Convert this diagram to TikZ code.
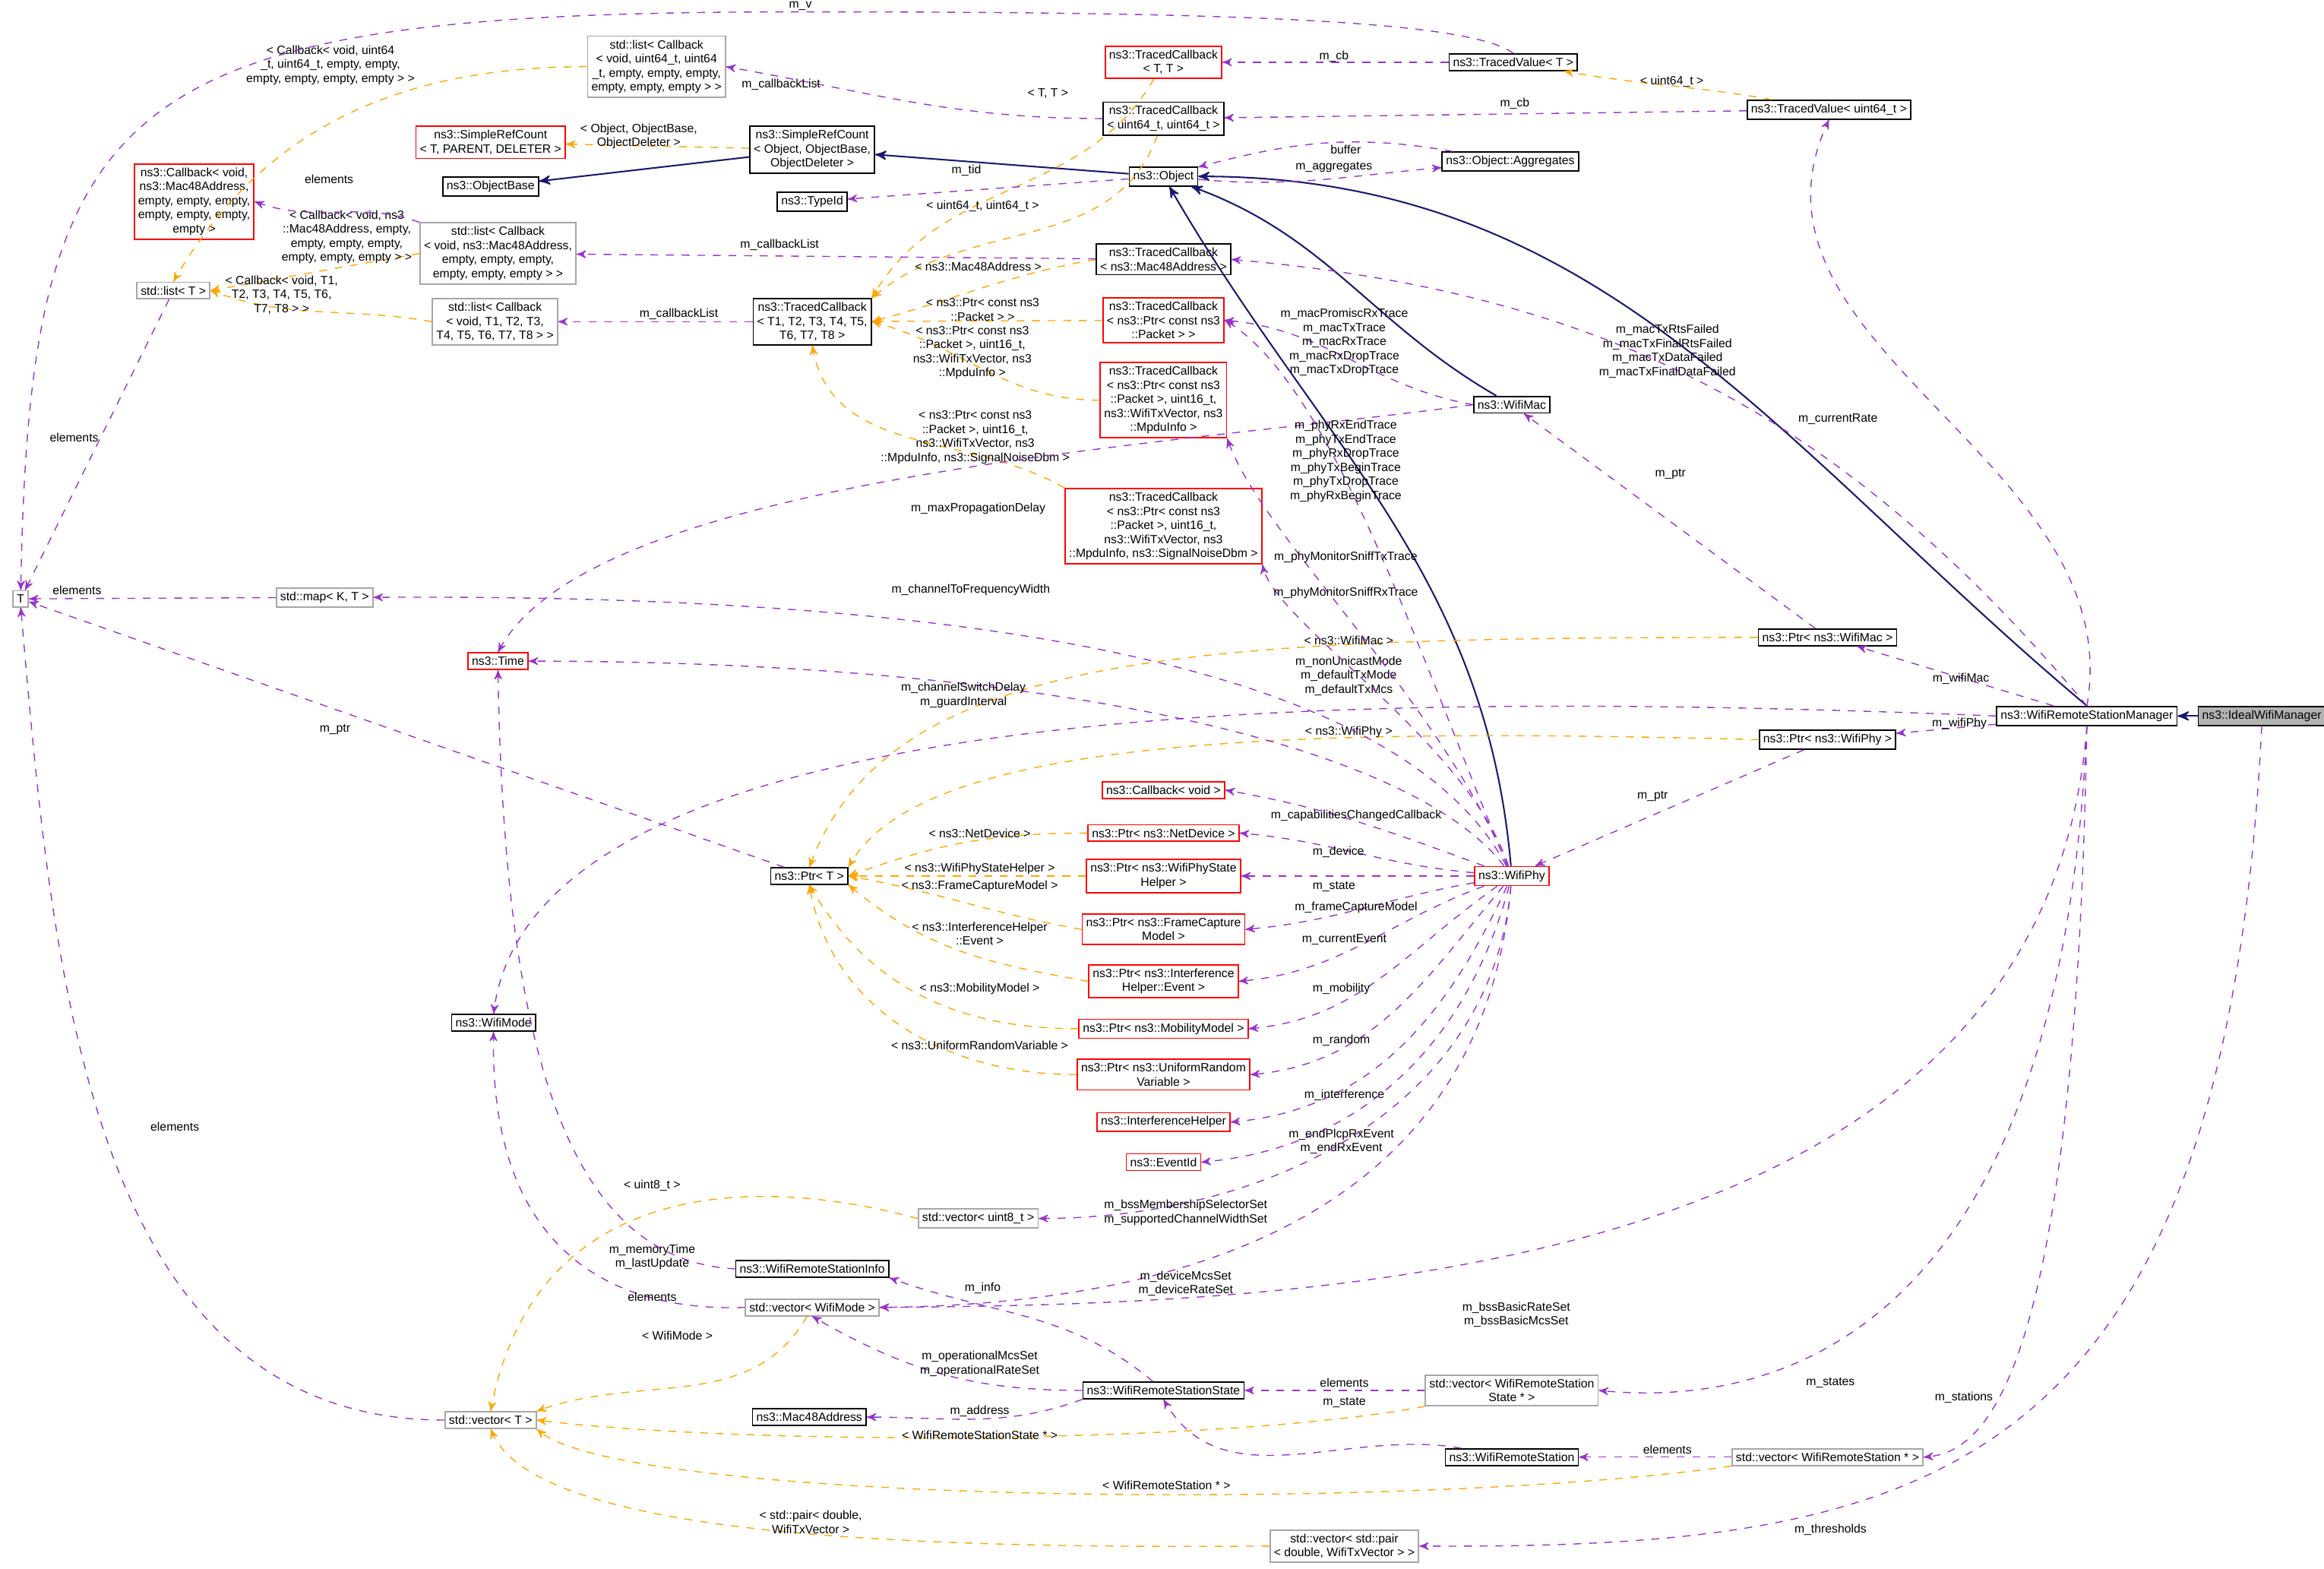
\documentclass[tikz,border=0pt]{standalone}
\usepackage{fontspec}
\setmainfont{Liberation Sans}
\usetikzlibrary{arrows,positioning}
\definecolor{navy}{RGB}{25,25,112}
\definecolor{usec}{RGB}{153,50,204}
\definecolor{instc}{RGB}{255,165,0}
\begin{document}
\begin{tikzpicture}[x=0.02cm,y=-0.02cm,>=stealth',font=\fontsize{4.6}{5.4}\selectfont]
  \tikzset{
    cls/.style={draw=black,fill=white,align=center,inner sep=1.5pt,line width=0.5pt},
    tmpl/.style={cls,draw=gray!70},
    redcls/.style={cls,draw=red},
    cur/.style={cls,fill=gray!60},
    inh/.style={->,navy,line width=0.6pt},
    use/.style={->,usec,dashed,line width=0.4pt},
    inst/.style={->,instc,dashed,line width=0.4pt},
    lbl/.style={align=center,text=black,inner sep=0.5pt}
  }
  \useasboundingbox (0,0) rectangle (1568,1058);

  % classes
  \node[tmpl] (T) at (14,404) {T};
  \node[tmpl] (listT) at (117,196) {std::list< T >};
  \node[redcls] (cbMac) at (131,136) {ns3::Callback< void,\\ns3::Mac48Address,\\empty, empty, empty,\\empty, empty, empty,\\empty >};
  \node[tmpl] (listCbU) at (443,45) {std::list< Callback\\< void, uint64\_t, uint64\\\_t, empty, empty, empty,\\empty, empty, empty > >};
  \node[redcls] (srcT) at (331,96) {ns3::SimpleRefCount\\< T, PARENT, DELETER >};
  \node[cls] (objBase) at (331,126) {ns3::ObjectBase};
  \node[cls] (srcObj) at (548,101) {ns3::SimpleRefCount\\< Object, ObjectBase,\\ObjectDeleter >};
  \node[cls] (typeId) at (548,136) {ns3::TypeId};
  \node[tmpl] (listCbM) at (336,171) {std::list< Callback\\< void, ns3::Mac48Address,\\empty, empty, empty,\\empty, empty, empty > >};
  \node[tmpl] (listCbT) at (334,217) {std::list< Callback\\< void, T1, T2, T3,\\T4, T5, T6, T7, T8 > >};
  \node[cls] (tcT) at (548,217) {ns3::TracedCallback\\< T1, T2, T3, T4, T5,\\T6, T7, T8 >};
  \node[redcls] (tcTT) at (785,42) {ns3::TracedCallback\\< T, T >};
  \node[cls] (tcU) at (785,80) {ns3::TracedCallback\\< uint64\_t, uint64\_t >};
  \node[cls] (object) at (785,119) {ns3::Object};
  \node[cls] (tvT) at (1021,42) {ns3::TracedValue< T >};
  \node[cls] (aggr) at (1019,109) {ns3::Object::Aggregates};
  \node[cls] (tvU) at (1234,74) {ns3::TracedValue< uint64\_t >};
  \node[cls] (tcMac) at (785,175) {ns3::TracedCallback\\< ns3::Mac48Address >};
  \node[redcls] (tcPkt) at (785,216) {ns3::TracedCallback\\< ns3::Ptr< const ns3\\::Packet > >};
  \node[redcls] (tcMpdu) at (785,270) {ns3::TracedCallback\\< ns3::Ptr< const ns3\\::Packet >, uint16\_t,\\ns3::WifiTxVector, ns3\\::MpduInfo >};
  \node[redcls] (tcSnr) at (785,355) {ns3::TracedCallback\\< ns3::Ptr< const ns3\\::Packet >, uint16\_t,\\ns3::WifiTxVector, ns3\\::MpduInfo, ns3::SignalNoiseDbm >};
  \node[cls] (wifiMac) at (1020,273) {ns3::WifiMac};
  \node[tmpl] (mapKT) at (219,403) {std::map< K, T >};
  \node[redcls] (time) at (336,446) {ns3::Time};
  \node[cls] (ptrMac) at (1233,430) {ns3::Ptr< ns3::WifiMac >};
  \node[cls] (ptrPhy) at (1233,499) {ns3::Ptr< ns3::WifiPhy >};
  \node[cls] (wrsm) at (1408,483) {ns3::WifiRemoteStationManager};
  \node[cur] (ideal) at (1526,483) {ns3::IdealWifiManager};
  \node[cls] (ptrT) at (546,591) {ns3::Ptr< T >};
  \node[redcls] (cbVoid) at (785,533) {ns3::Callback< void >};
  \node[redcls] (ptrDev) at (785,562) {ns3::Ptr< ns3::NetDevice >};
  \node[redcls] (ptrState) at (785,591) {ns3::Ptr< ns3::WifiPhyState\\Helper >};
  \node[redcls] (ptrFc) at (785,627) {ns3::Ptr< ns3::FrameCapture\\Model >};
  \node[redcls] (ptrEv) at (785,662) {ns3::Ptr< ns3::Interference\\Helper::Event >};
  \node[redcls] (ptrMob) at (785,694) {ns3::Ptr< ns3::MobilityModel >};
  \node[redcls] (ptrRnd) at (785,725) {ns3::Ptr< ns3::UniformRandom\\Variable >};
  \node[redcls] (intf) at (785,757) {ns3::InterferenceHelper};
  \node[redcls] (evId) at (785,784) {ns3::EventId};
  \node[redcls] (wifiPhy) at (1020,591) {ns3::WifiPhy};
  \node[cls] (wifiMode) at (333,690) {ns3::WifiMode};
  \node[tmpl] (vecU8) at (660,822) {std::vector< uint8\_t >};
  \node[cls] (wrsInfo) at (548,856) {ns3::WifiRemoteStationInfo};
  \node[tmpl] (vecMode) at (548,882) {std::vector< WifiMode >};
  \node[cls] (mac48) at (546,956) {ns3::Mac48Address};
  \node[cls] (wrsState) at (785,938) {ns3::WifiRemoteStationState};
  \node[tmpl] (vecState) at (1020,938) {std::vector< WifiRemoteStation\\State * >};
  \node[cls] (wrs) at (1020,983) {ns3::WifiRemoteStation};
  \node[tmpl] (vecWrs) at (1233,983) {std::vector< WifiRemoteStation * >};
  \node[tmpl] (vecT) at (331,958) {std::vector< T >};
  \node[tmpl] (vecPair) at (907,1043) {std::vector< std::pair\\< double, WifiTxVector > >};

  % inheritance
  \draw[inh] (ideal) -- (wrsm);
  \draw[inh] (wrsm.north) to[out=140,in=0] (object);
  \draw[inh] (wifiMac) to[out=150,in=-20] (object);
  \draw[inh] (wifiPhy) to[out=95,in=-60] (object);
  \draw[inh] (object) -- (srcObj);
  \draw[inh] (srcObj) -- (objBase);

  % template instances
  \draw[inst] (srcObj) -- (srcT);
  \node[lbl] at (431,92) {< Object, ObjectBase,\\ObjectDeleter >};
  \draw[inst] (tvU) to[out=170,in=-10] (tvT);
  \node[lbl] at (1128,55) {< uint64\_t >};
  \draw[inst] (tcTT) to[out=-120,in=60] (tcT.north east);
  \node[lbl] at (707,63) {< T, T >};
  \draw[inst] (tcU) to[out=-110,in=40] (tcT.north east);
  \node[lbl] at (663,139) {< uint64\_t, uint64\_t >};
  \draw[inst] (tcMac.west) to[out=190,in=15] (tcT.east);
  \node[lbl] at (660,180) {< ns3::Mac48Address >};
  \draw[inst] (tcPkt) -- (tcT);
  \node[lbl] at (663,209) {< ns3::Ptr< const ns3\\::Packet > >};
  \draw[inst] (tcMpdu.west) to[out=180,in=-15] (tcT.east);
  \node[lbl] at (656,238) {< ns3::Ptr< const ns3\\::Packet >, uint16\_t,\\ns3::WifiTxVector, ns3\\::MpduInfo >};
  \draw[inst] (tcSnr.north west) to[out=150,in=-80] (tcT.south);
  \node[lbl] at (658,295) {< ns3::Ptr< const ns3\\::Packet >, uint16\_t,\\ns3::WifiTxVector, ns3\\::MpduInfo, ns3::SignalNoiseDbm >};
  \draw[inst] (listCbU.west) to[out=180,in=60] (listT.north);
  \node[lbl] at (223,44) {< Callback< void, uint64\\\_t, uint64\_t, empty, empty,\\empty, empty, empty, empty > >};
  \draw[inst] (listCbM.west) to[out=190,in=10] (listT.east);
  \node[lbl] at (234,160) {< Callback< void, ns3\\::Mac48Address, empty,\\empty, empty, empty,\\empty, empty, empty > >};
  \draw[inst] (listCbT.west) to[out=170,in=-20] (listT.east);
  \node[lbl] at (190,199) {< Callback< void, T1,\\T2, T3, T4, T5, T6,\\T7, T8 > >};
  \draw[inst] (ptrMac.west) .. controls (800,430) and (600,440) .. (ptrT.north);
  \node[lbl] at (910,432) {< ns3::WifiMac >};
  \draw[inst] (ptrPhy.west) .. controls (850,490) and (620,500) .. (ptrT.north east);
  \node[lbl] at (910,494) {< ns3::WifiPhy >};
  \draw[inst] (ptrDev.west) to[out=180,in=20] (ptrT.east);
  \node[lbl] at (661,562) {< ns3::NetDevice >};
  \draw[inst] (ptrState) -- (ptrT);
  \node[lbl] at (661,586) {< ns3::WifiPhyStateHelper >};
  \draw[inst] (ptrFc.west) to[out=170,in=-10] (ptrT.east);
  \node[lbl] at (661,598) {< ns3::FrameCaptureModel >};
  \draw[inst] (ptrEv.west) to[out=170,in=-40] (ptrT.south east);
  \node[lbl] at (661,630) {< ns3::InterferenceHelper\\::Event >};
  \draw[inst] (ptrMob.west) to[out=180,in=-60] (ptrT.south);
  \node[lbl] at (661,667) {< ns3::MobilityModel >};
  \draw[inst] (ptrRnd.west) to[out=180,in=-80] (ptrT.south);
  \node[lbl] at (661,705) {< ns3::UniformRandomVariable >};
  \draw[inst] (vecU8.west) .. controls (500,790) and (360,800) .. (vecT.north);
  \node[lbl] at (440,800) {< uint8\_t >};
  \draw[inst] (vecMode) to[out=-120,in=20] (vecT.north east);
  \node[lbl] at (457,901) {< WifiMode >};
  \draw[inst] (vecState.south west) .. controls (820,975) and (500,975) .. (vecT.east);
  \node[lbl] at (661,968) {< WifiRemoteStationState * >};
  \draw[inst] (vecWrs.south west) .. controls (950,1020) and (420,1015) .. (vecT.south east);
  \node[lbl] at (787,1002) {< WifiRemoteStation * >};
  \draw[inst] (vecPair.west) .. controls (600,1045) and (360,1035) .. (vecT.south);
  \node[lbl] at (547,1027) {< std::pair< double,\\WifiTxVector >};

  % usage
  \draw[use] (tvT.north) .. controls (990,12) and (800,8) .. (540,8) .. controls (80,8) and (20,60) .. (T.north);
  \node[lbl] at (540,4) {m\_v};
  \draw[use] (tvT) -- (tcTT);
  \node[lbl] at (900,38) {m\_cb};
  \draw[use] (tvU) -- (tcU);
  \node[lbl] at (1022,70) {m\_cb};
  \draw[use] (tcU.west) to[out=180,in=-10] (listCbU.east);
  \node[lbl] at (527,57) {m\_callbackList};
  \draw[use] (tcMac) -- (listCbM);
  \node[lbl] at (526,165) {m\_callbackList};
  \draw[use] (tcT) -- (listCbT);
  \node[lbl] at (458,212) {m\_callbackList};
  \draw[use] (listCbM.north west) to[out=160,in=-20] (cbMac.east);
  \node[lbl] at (222,121) {elements};
  \draw[use] (listT) -- (T);
  \node[lbl] at (50,295) {elements};
  \draw[use] (mapKT) -- (T);
  \node[lbl] at (52,398) {elements};
  \draw[use] (vecT.west) to[out=180,in=-85] (T.south);
  \node[lbl] at (118,760) {elements};
  \draw[use] (ptrT) -- (T);
  \node[lbl] at (226,492) {m\_ptr};
  \draw[use] (object) -- (typeId);
  \node[lbl] at (652,115) {m\_tid};
  \draw[use] (object) to[out=-5,in=185] (aggr);
  \node[lbl] at (900,113) {m\_aggregates};
  \draw[use] (aggr) to[out=170,in=15] (object);
  \node[lbl] at (908,101) {buffer};
  \draw[use] (wifiMac.west) to[out=170,in=-5] (tcPkt.east);
  \node[lbl] at (907,231) {m\_macPromiscRxTrace\\m\_macTxTrace\\m\_macRxTrace\\m\_macRxDropTrace\\m\_macTxDropTrace};
  \draw[use] (wifiMac.west) .. controls (800,300) and (400,320) .. (time.north);
  \node[lbl] at (660,343) {m\_maxPropagationDelay};
  \draw[use] (ptrMac) -- (wifiMac);
  \node[lbl] at (1127,320) {m\_ptr};
  \draw[use] (ptrPhy) -- (wifiPhy);
  \node[lbl] at (1115,537) {m\_ptr};
  \draw[use] (wrsm.north) to[out=80,in=-115] (tvU.south);
  \node[lbl] at (1240,283) {m\_currentRate};
  \draw[use] (wrsm.north) to[out=130,in=-5] (tcMac.east);
  \node[lbl] at (1125,237) {m\_macTxRtsFailed\\m\_macTxFinalRtsFailed\\m\_macTxDataFailed\\m\_macTxFinalDataFailed};
  \draw[use] (wrsm) -- (ptrMac);
  \node[lbl] at (1323,458) {m\_wifiMac};
  \draw[use] (wrsm) -- (ptrPhy);
  \node[lbl] at (1322,488) {m\_wifiPhy};
  \draw[use] (wrsm.west) .. controls (900,465) and (360,470) .. (wifiMode.north);
  \node[lbl] at (910,456) {m\_nonUnicastMode\\m\_defaultTxMode\\m\_defaultTxMcs};
  \draw[use] (wrsm.south) .. controls (1380,860) and (900,880) .. (vecMode.east);
  \node[lbl] at (1023,887) {m\_bssBasicRateSet\\m\_bssBasicMcsSet};
  \draw[use] (wrsm.south) .. controls (1390,900) and (1200,950) .. (vecState.east);
  \node[lbl] at (1235,933) {m\_states};
  \draw[use] (wrsm.south) .. controls (1400,930) and (1340,980) .. (vecWrs.east);
  \node[lbl] at (1325,943) {m\_stations};
  \draw[use] (ideal.south) .. controls (1500,1000) and (1300,1045) .. (vecPair.east);
  \node[lbl] at (1235,1032) {m\_thresholds};
  \draw[use] (wifiPhy) .. controls (960,450) and (900,260) .. (tcPkt.east);
  \node[lbl] at (908,311) {m\_phyRxEndTrace\\m\_phyTxEndTrace\\m\_phyRxDropTrace\\m\_phyTxBeginTrace\\m\_phyTxDropTrace\\m\_phyRxBeginTrace};
  \draw[use] (wifiPhy) .. controls (970,470) and (850,360) .. (tcMpdu.south east);
  \node[lbl] at (908,376) {m\_phyMonitorSniffTxTrace};
  \draw[use] (wifiPhy) .. controls (990,500) and (860,420) .. (tcSnr.south east);
  \node[lbl] at (908,400) {m\_phyMonitorSniffRxTrace};
  \draw[use] (wifiPhy) .. controls (950,460) and (700,400) .. (mapKT.east);
  \node[lbl] at (655,398) {m\_channelToFrequencyWidth};
  \draw[use] (wifiPhy) .. controls (950,500) and (700,446) .. (time.east);
  \node[lbl] at (650,469) {m\_channelSwitchDelay\\m\_guardInterval};
  \draw[use] (wifiPhy) to[out=160,in=-10] (cbVoid.east);
  \node[lbl] at (915,550) {m\_capabilitiesChangedCallback};
  \draw[use] (wifiPhy) to[out=175,in=-5] (ptrDev.east);
  \node[lbl] at (903,575) {m\_device};
  \draw[use] (wifiPhy) -- (ptrState.east);
  \node[lbl] at (900,598) {m\_state};
  \draw[use] (wifiPhy) to[out=190,in=5] (ptrFc.east);
  \node[lbl] at (915,612) {m\_frameCaptureModel};
  \draw[use] (wifiPhy) to[out=200,in=5] (ptrEv.east);
  \node[lbl] at (907,634) {m\_currentEvent};
  \draw[use] (wifiPhy) to[out=215,in=5] (ptrMob.east);
  \node[lbl] at (905,667) {m\_mobility};
  \draw[use] (wifiPhy) to[out=230,in=5] (ptrRnd.east);
  \node[lbl] at (905,702) {m\_random};
  \draw[use] (wifiPhy) to[out=245,in=5] (intf.east);
  \node[lbl] at (907,739) {m\_interference};
  \draw[use] (wifiPhy) to[out=255,in=5] (evId.east);
  \node[lbl] at (905,770) {m\_endPlcpRxEvent\\m\_endRxEvent};
  \draw[use] (wifiPhy) to[out=265,in=0] (vecU8.east);
  \node[lbl] at (800,818) {m\_bssMembershipSelectorSet\\m\_supportedChannelWidthSet};
  \draw[use] (wifiPhy) .. controls (1000,820) and (800,880) .. (vecMode.east);
  \node[lbl] at (800,866) {m\_deviceMcsSet\\m\_deviceRateSet};
  \draw[use] (wrsInfo.west) .. controls (380,850) and (340,700) .. (time.south);
  \node[lbl] at (440,848) {m\_memoryTime\\m\_lastUpdate};
  \draw[use] (vecMode.west) .. controls (420,885) and (330,850) .. (wifiMode.south);
  \node[lbl] at (440,875) {elements};
  \draw[use] (wrsState) to[out=140,in=-20] (wrsInfo.south east);
  \node[lbl] at (663,869) {m\_info};
  \draw[use] (wrsState.west) to[out=180,in=-30] (vecMode.south);
  \node[lbl] at (661,920) {m\_operationalMcsSet\\m\_operationalRateSet};
  \draw[use] (wrsState.south west) to[out=200,in=0] (mac48.east);
  \node[lbl] at (661,952) {m\_address};
  \draw[use] (vecState) -- (wrsState);
  \node[lbl] at (907,933) {elements};
  \draw[use] (wrs) to[out=170,in=-60] (wrsState.south);
  \node[lbl] at (907,946) {m\_state};
  \draw[use] (vecWrs) -- (wrs);
  \node[lbl] at (1125,978) {elements};
\end{tikzpicture}
\end{document}
